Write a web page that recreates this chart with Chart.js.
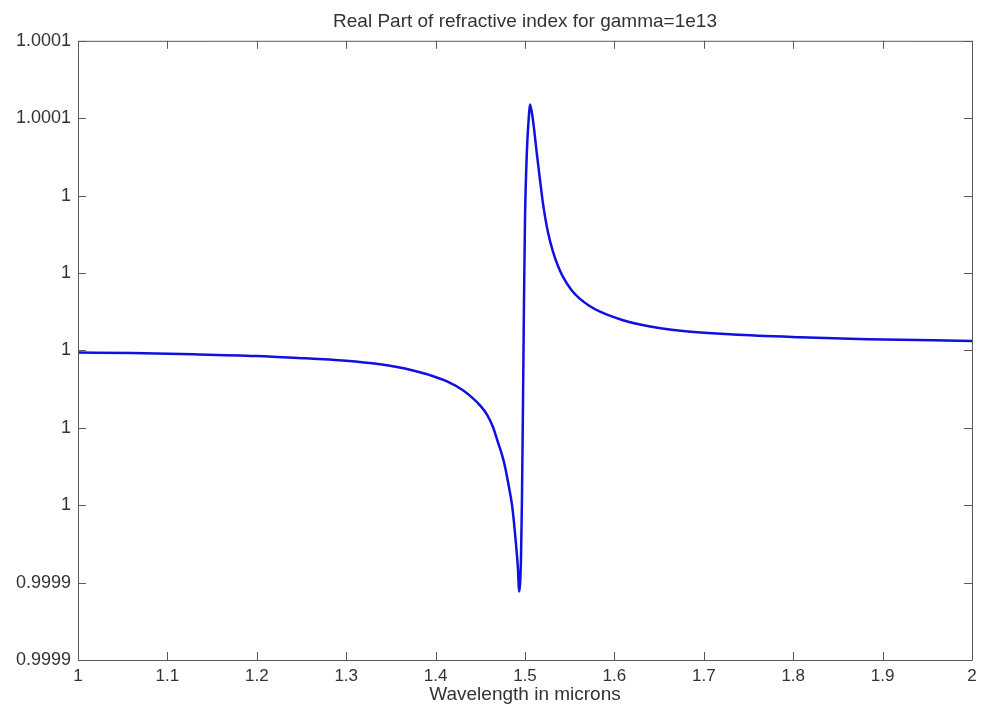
<!DOCTYPE html>
<html lang="en">
<head>
  <meta charset="UTF-8" />
  <title>Real Part of refractive index</title>
  <script src="https://cdn.jsdelivr.net/npm/chart.js"></script>
  <style>
    body { margin: 0; background: #fff; }
    #wrap { width: 981px; height: 711px; }
  </style>
</head>
<body>
  <div id="wrap"><canvas id="nChart" width="981" height="711"></canvas></div>
  <script>
    // wavelength (microns) and real part of refractive index
    const wavelengths = [
      1.000, 1.060, 1.129, 1.200, 1.241, 1.300, 1.3378, 1.3568, 1.3747, 1.3937,
      1.4128, 1.4306, 1.4418, 1.4497, 1.4575, 1.4642, 1.4687, 1.4743, 1.4776, 1.4810,
      1.4855, 1.4877, 1.4899, 1.4922, 1.4933, 1.4955, 1.4966, 1.4978, 1.4989, 1.5000,
      1.5022, 1.5045, 1.5056, 1.5089, 1.5134, 1.5168, 1.5201, 1.5257, 1.5313, 1.5369,
      1.5425, 1.5526, 1.5615, 1.5727, 1.5839, 1.6096, 1.6286, 1.6767, 1.7327, 1.8076,
      1.8826, 1.9564, 2.000
    ];
    const realIndex = [
      0.99999948, 0.99999930, 0.99999900, 0.99999855, 0.99999810, 0.99999730, 0.99999640, 0.99999570, 0.99999480, 0.99999360,
      0.99999200, 0.99998970, 0.99998760, 0.99998580, 0.99998340, 0.99998020, 0.99997700, 0.99997300, 0.99997000, 0.99996600,
      0.99996000, 0.99995550, 0.99995000, 0.99994320, 0.99993770, 0.99994600, 0.99996150, 0.99998730, 1.00001318, 1.00003385,
      1.00005190, 1.00006100, 1.00006357, 1.00005950, 1.00005050, 1.00004400, 1.00003800, 1.00003050, 1.00002550, 1.00002180,
      1.00001900, 1.00001540, 1.00001330, 1.00001140, 1.00001000, 1.00000780, 1.00000670, 1.00000500, 1.00000410, 1.00000340,
      1.00000290, 1.00000260, 1.00000245
    ];

    const xTickValues = [1, 1.1, 1.2, 1.3, 1.4, 1.5, 1.6, 1.7, 1.8, 1.9, 2];
    const xTickLabels = ['1', '1.1', '1.2', '1.3', '1.4', '1.5', '1.6', '1.7', '1.8', '1.9', '2'];
    const yTickValues = [0.99992, 0.99994, 0.99996, 0.99998, 1.00000, 1.00002, 1.00004, 1.00006, 1.00008];
    const yTickLabels = ['0.9999', '0.9999', '1', '1', '1', '1', '1', '1.0001', '1.0001'];

    const points = wavelengths.map((w, i) => ({ x: w, y: realIndex[i] }));

    // matlab style box with inward tick marks
    const boxTicks = {
      id: 'boxTicks',
      afterDraw(chart) {
        const { ctx, chartArea: a, scales } = chart;
        const len = 8;
        ctx.save();
        ctx.strokeStyle = '#5a5a5a';
        ctx.lineWidth = 1;
        ctx.beginPath();
        ctx.rect(a.left + 0.5, a.top + 0.5, a.right - a.left, a.bottom - a.top);
        scales.x.ticks.forEach(t => {
          const px = Math.round(scales.x.getPixelForValue(t.value)) + 0.5;
          ctx.moveTo(px, a.bottom); ctx.lineTo(px, a.bottom - len);
          ctx.moveTo(px, a.top); ctx.lineTo(px, a.top + len);
        });
        scales.y.ticks.forEach(t => {
          const py = Math.round(scales.y.getPixelForValue(t.value)) + 0.5;
          ctx.moveTo(a.left, py); ctx.lineTo(a.left + len, py);
          ctx.moveTo(a.right, py); ctx.lineTo(a.right - len, py);
        });
        ctx.stroke();
        ctx.restore();
      }
    };

    const ctx = document.getElementById('nChart').getContext('2d');
    new Chart(ctx, {
      type: 'line',
      data: {
        datasets: [{
          data: points,
          borderColor: '#1010e0',
          borderWidth: 2.5,
          pointRadius: 0,
          fill: false,
          cubicInterpolationMode: 'monotone'
        }]
      },
      options: {
        responsive: false,
        animation: false,
        layout: { padding: { left: 0, right: 9, top: 0, bottom: 0 } },
        plugins: {
          legend: { display: false },
          tooltip: { enabled: false },
          title: {
            display: true,
            fullSize: false,
            text: 'Real Part of refractive index for gamma=1e13',
            color: '#333',
            font: { family: 'Liberation Sans, Arial, sans-serif', size: 19, weight: 'normal' },
            padding: { top: 10, bottom: 8 }
          }
        },
        scales: {
          x: {
            type: 'linear',
            min: 1,
            max: 2,
            afterFit: s => { s.height = 51; s.paddingLeft = 0; s.paddingRight = 0; },
            afterBuildTicks: s => { s.ticks = xTickValues.map(v => ({ value: v })); },
            ticks: {
              padding: 6,
              maxRotation: 0,
              color: '#333',
              font: { family: 'Liberation Sans, Arial, sans-serif', size: 17 },
              callback: (v, i) => xTickLabels[i]
            },
            grid: { display: false, drawTicks: false },
            border: { display: false },
            title: {
              display: true,
              text: 'Wavelength in microns',
              color: '#333',
              font: { family: 'Liberation Sans, Arial, sans-serif', size: 19 },
              padding: { top: 0, bottom: 5 }
            }
          },
          y: {
            type: 'linear',
            min: 0.99992,
            max: 1.00008,
            afterFit: s => { s.width = 78; },
            afterBuildTicks: s => { s.ticks = yTickValues.map(v => ({ value: v })); },
            ticks: {
              padding: 7,
              color: '#333',
              font: { family: 'Liberation Sans, Arial, sans-serif', size: 18 },
              callback: (v, i) => yTickLabels[i]
            },
            grid: { display: false, drawTicks: false },
            border: { display: false }
          }
        }
      },
      plugins: [boxTicks]
    });
  </script>
</body>
</html>
